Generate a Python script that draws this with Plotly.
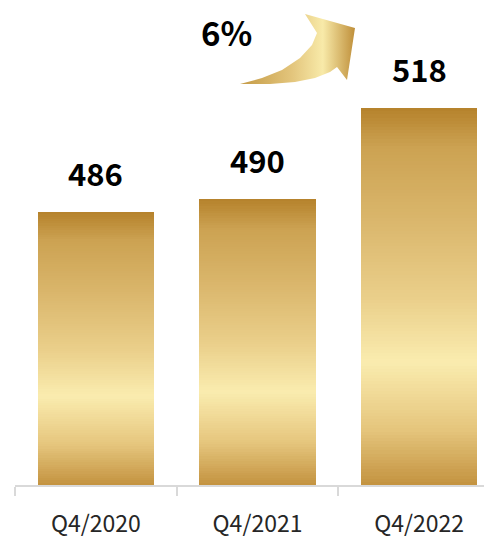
import numpy as np
import plotly.graph_objects as go

# ---------- data ----------
quarters = ["Q4/2020", "Q4/2021", "Q4/2022"]
revenue = [486, 490, 518]
growth_label = "6%"

AXIS_FLOOR = 402
AXIS_TOP = 548.8
N_LAYERS = 120

# gold gradient, 0 = bottom of bar, 1 = top of bar
GOLD = [
    (0.00, (194, 145, 62)),
    (0.15, (229, 197, 124)),
    (0.33, (250, 236, 175)),
    (0.50, (234, 207, 138)),
    (0.72, (217, 181, 106)),
    (0.90, (204, 162, 82)),
    (1.00, (182, 131, 45)),
]


def gold_at(f):
    stops = [s for s, _ in GOLD]
    rgb = [int(round(np.interp(f, stops, [c[i] for _, c in GOLD]))) for i in range(3)]
    return "rgb(%d,%d,%d)" % tuple(rgb)


fig = go.Figure()

# bars built from overlaid layers (tallest first) to fake a vertical gradient
fracs = np.linspace(1.0, 1.0 / N_LAYERS, N_LAYERS)
for q, v in zip(quarters, revenue):
    span = v - AXIS_FLOOR
    fig.add_trace(go.Bar(
        x=[q] * N_LAYERS,
        y=span * fracs,
        base=AXIS_FLOOR,
        width=0.72,
        marker=dict(color=[gold_at(f) for f in fracs], line=dict(width=0)),
        hoverinfo="skip",
        showlegend=False,
    ))

# value labels above bars
for q, v in zip(quarters, revenue):
    fig.add_annotation(
        x=q, y=v, text="<b>%d</b>" % v, showarrow=False,
        yanchor="bottom", yshift=15,
        font=dict(family="Noto Sans CJK JP", size=31, color="#000000"),
    )

# decorative growth arrow (window-pixel coords on a hidden overlay axis)
arrow_x = [240, 270, 295, 315, 330, 337, 347, 355, 305, 317, 312, 300, 282, 262, 240]
arrow_y = [84, 84, 82, 78, 72, 67, 80, 28, 14, 33, 45, 58, 70, 78, 84]
fig.add_trace(go.Scatter(
    x=arrow_x, y=arrow_y, mode="lines", fill="toself",
    line=dict(width=0, color="rgba(0,0,0,0)"),
    fillgradient=dict(
        type="horizontal",
        colorscale=[[0, "#c49a45"], [0.45, "#e3c57c"], [0.72, "#f8eaa9"], [1, "#bf8f3a"]],
    ),
    xaxis="x2", yaxis="y2", hoverinfo="skip", showlegend=False,
))
fig.add_annotation(
    x=226, y=32, xref="x2", yref="y2", text="<b>%s</b>" % growth_label,
    showarrow=False, borderpad=0,
    font=dict(family="Noto Sans CJK JP", size=33, color="#000000"),
)

fig.update_layout(
    width=492, height=540,
    margin=dict(l=7, r=0, t=0, b=63),
    paper_bgcolor="white", plot_bgcolor="white",
    barmode="overlay", bargap=0,
    xaxis=dict(
        type="category", range=[-0.5, 2.5],
        showline=True, linecolor="#d9d9d9", linewidth=2,
        ticks="outside", tickson="boundaries", ticklen=9, tickwidth=2, tickcolor="#d9d9d9",
        ticklabelstandoff=17,
        tickfont=dict(family="Noto Sans CJK JP", size=23, color="#262626"),
        showgrid=False, zeroline=False, fixedrange=True,
    ),
    yaxis=dict(range=[AXIS_FLOOR, AXIS_TOP], visible=False, fixedrange=True),
    xaxis2=dict(range=[15, 500], overlaying="x", visible=False, fixedrange=True),
    yaxis2=dict(range=[485, 8], overlaying="y", visible=False, fixedrange=True),
)

fig.write_html("out.html")
